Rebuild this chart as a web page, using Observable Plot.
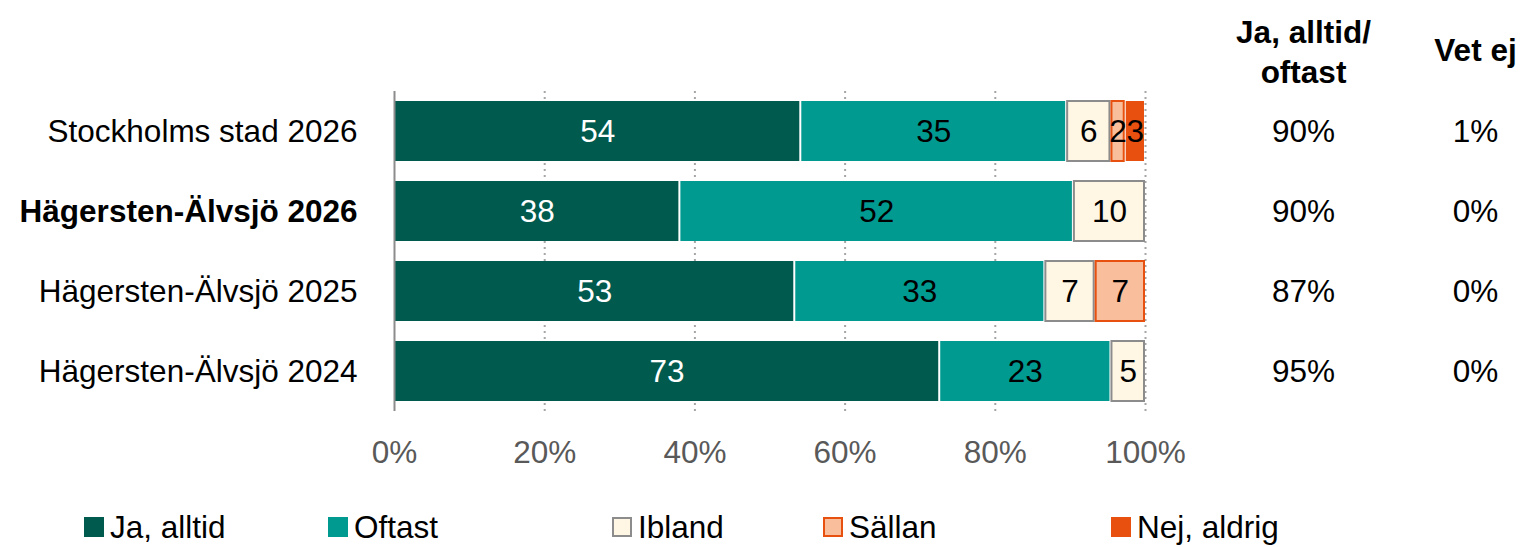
<!DOCTYPE html>
<html>
<head>
<meta charset="utf-8">
<script src="https://cdn.jsdelivr.net/npm/d3@7"></script>
<script src="https://cdn.jsdelivr.net/npm/@observablehq/plot@0.6"></script>
<style>
  body { margin: 0; background: #fff; font-family: "Liberation Sans", Arial, sans-serif; }
  #wrap { position: relative; width: 1534px; height: 547px; }
  #legend { position: absolute; top: 507px; left: 0; width: 1534px; height: 40px; }
  .item { position: absolute; top: 0; height: 40px; display: flex; align-items: center; font-size: 31.5px; color: #000; }
  .sw { width: 20px; height: 20px; box-sizing: border-box; margin-right: 6px; }
</style>
</head>
<body>
<div id="wrap">
  <div id="chart"></div>
  <div id="legend"></div>
</div>
<script>
const groups = ["Stockholms stad 2026", "Hägersten-Älvsjö 2026", "Hägersten-Älvsjö 2025", "Hägersten-Älvsjö 2024"];
const categories = ["Ja, alltid", "Oftast", "Ibland", "Sällan", "Nej, aldrig"];
const jaAlltid = [54.1, 38.0, 53.3, 72.6];
const oftast = [35.4, 52.4, 33.3, 22.8];
const ibland = [5.9, 9.6, 6.7, 4.6];
const sallan = [1.9, 0, 6.7, 0];
const nejAldrig = [2.7, 0, 0, 0];
const jaOftast = [90, 90, 87, 95];
const vetEj = [1, 0, 0, 0];
const xTicks = [0, 20, 40, 60, 80, 100];
const boldGroup = "Hägersten-Älvsjö 2026";

const fills = ["#005A4E", "#009A90", "#FFF6E4", "#F9BE9C", "#E8500F"];
const strokes = ["none", "none", "#8C8C8C", "#E8500F", "none"];
const textFills = ["#FFFFFF", "#000000", "#000000", "#000000", "#000000"];

const series = [jaAlltid, oftast, ibland, sallan, nejAldrig];
const rows = [];
groups.forEach((g, gi) => {
  let acc = 0;
  categories.forEach((c, ci) => {
    const v = series[ci][gi];
    if (v > 0) {
      rows.push({group: g, cat: c, ci, value: v, x1: acc, x2: acc + v});
    }
    acc += v;
  });
});
const sideRows = groups.map((g, i) => ({group: g, a: jaOftast[i] + "%", b: vetEj[i] + "%"}));

const fs = 31.5;
const font = "'Liberation Sans', Arial, sans-serif";
const chart = Plot.plot({
  width: 1534,
  height: 471,
  marginLeft: 394,
  marginRight: 389,
  marginTop: 91,
  marginBottom: 60,
  style: {fontFamily: font, fontSize: fs + "px", background: "#fff", overflow: "visible"},
  x: {domain: [0, 100], axis: null},
  y: {domain: groups, paddingInner: 0.25, paddingOuter: 0.125, axis: null},
  color: {type: "identity"},
  marks: [
    Plot.gridX(xTicks.filter(d => d > 0), {stroke: "#A6A6A6", strokeOpacity: 1, strokeWidth: 2, strokeDasharray: "2,4"}),
    Plot.barX(rows, {
      x1: "x1", x2: "x2", y: "group",
      fill: d => fills[d.ci],
      stroke: d => strokes[d.ci],
      strokeWidth: 2,
      insetLeft: 1, insetRight: 1
    }),
    Plot.ruleX([0], {stroke: "#8C8C8C", strokeWidth: 2}),
    Plot.text(rows, {
      x: d => (d.x1 + d.x2) / 2, y: "group",
      text: d => String(Math.round(d.value)),
      fill: d => textFills[d.ci],
      fontSize: fs
    }),
    Plot.text(xTicks, {
      x: d => d, frameAnchor: "bottom", dy: 51,
      text: d => d + "%", fill: "#595959", fontSize: fs
    }),
    Plot.text(groups.filter(g => g !== boldGroup), {
      y: d => d, frameAnchor: "left", textAnchor: "end", dx: -37,
      text: d => d, fill: "#000", fontSize: fs
    }),
    Plot.text(groups.filter(g => g === boldGroup), {
      y: d => d, frameAnchor: "left", textAnchor: "end", dx: -37,
      text: d => d, fill: "#000", fontSize: fs, fontWeight: "bold"
    }),
    Plot.text(sideRows, {y: "group", frameAnchor: "right", textAnchor: "middle", dx: 158, text: "a", fill: "#000", fontSize: fs}),
    Plot.text(sideRows, {y: "group", frameAnchor: "right", textAnchor: "middle", dx: 330, text: "b", fill: "#000", fontSize: fs}),
    Plot.text(["Ja, alltid/\noftast"], {frameAnchor: "top-right", textAnchor: "middle", lineAnchor: "middle", dx: 158, dy: -41, text: d => d, lineHeight: 1.27, fontWeight: "bold", fill: "#000", fontSize: fs}),
    Plot.text(["Vet ej"], {frameAnchor: "top-right", textAnchor: "middle", lineAnchor: "middle", dx: 330, dy: -41, text: d => d, fontWeight: "bold", fill: "#000", fontSize: fs})
  ]
});
document.getElementById("chart").appendChild(chart);

const legendLefts = [84, 328, 612, 823, 1111];
const legend = document.getElementById("legend");
categories.forEach((c, i) => {
  const item = document.createElement("div");
  item.className = "item";
  item.style.left = legendLefts[i] + "px";
  const sw = document.createElement("div");
  sw.className = "sw";
  sw.style.background = fills[i];
  if (strokes[i] !== "none") sw.style.border = "2px solid " + strokes[i];
  const t = document.createElement("span");
  t.textContent = c;
  item.appendChild(sw);
  item.appendChild(t);
  legend.appendChild(item);
});
</script>
</body>
</html>
